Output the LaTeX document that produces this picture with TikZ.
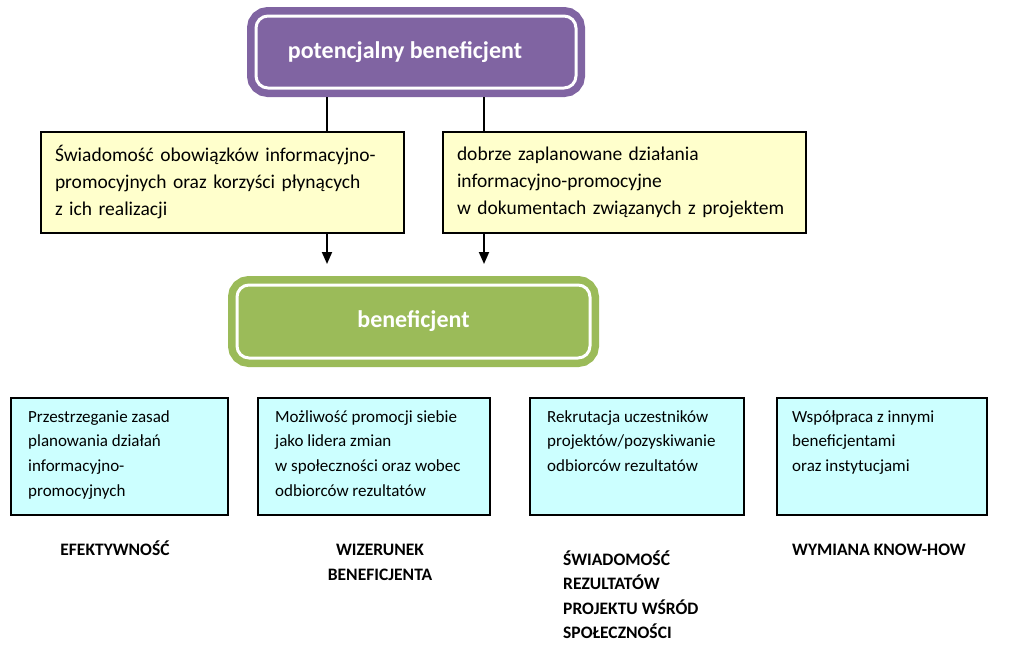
\documentclass[tikz,border=0pt]{standalone}
\usepackage{fontspec}
\setmainfont{Carlito}
\usetikzlibrary{arrows.meta, positioning, calc}

\definecolor{purbox}{HTML}{8064A2}
\definecolor{grnbox}{HTML}{9BBB59}
\definecolor{yelfill}{HTML}{FFFFCC}
\definecolor{cyanfill}{HTML}{CCFFFF}

\begin{document}
\begin{tikzpicture}[
    x=1pt, y=-1pt,
    head/.style={rounded corners=12pt, draw=#1, fill=#1, line width=7.5pt, double=white, double distance=3pt,
        outer sep=9pt, inner sep=0pt, text=white, font=\fontsize{24}{28}\selectfont\bfseries},
    ybox/.style={draw, line width=2.4pt, fill=yelfill, align=left, text width=335pt, inner xsep=14pt,
        minimum height=100.5pt, font=\fontsize{19.5}{27}\selectfont},
    cbox/.style={draw, line width=2.4pt, fill=cyanfill, minimum height=116.5pt},
    ctext/.style={anchor=base west, align=left, inner sep=0pt, font=\fontsize{17}{24.7}\selectfont},
    tag/.style={anchor=base, inner sep=0pt, font=\fontsize{17.5}{24.5}\selectfont\bfseries},
    link/.style={line width=1.8pt},
    arrow/.style={-{Triangle[width=10pt,length=12pt]}, line width=1.8pt, shorten >=12pt}
]
\useasboundingbox (0,0) rectangle (1024,651);

% top
\node[head=purbox, minimum width=320pt, minimum height=72pt] (pot) at (416,52) {potencjalny beneficjent\hspace*{22pt}};

% middle
\node[ybox] (swiad) at (222.5,182.5) {%
\'Swiadomo\'s\'c obowi\k{a}zk\'ow informacyjno-\\
promocyjnych oraz korzy\'sci p\l{}yn\k{a}cych\\
z ich realizacji};
\node[ybox] (plan) at (624.5,182.5) {%
dobrze zaplanowane dzia\l{}ania\\
informacyjno-promocyjne\\
w dokumentach zwi\k{a}zanych z projektem};

\node[head=grnbox, minimum width=353pt, minimum height=73pt] (benef) at (413.5,321.5) {beneficjent};

\coordinate (c1) at (327,0);
\coordinate (c2) at (484,0);

% connectors
\draw[link] (pot.south -| c1) -- (swiad.north -| c1);
\draw[link] (pot.south -| c2) -- (plan.north -| c2);
\draw[arrow] (swiad.south -| c1) -- (benef.north -| c1);
\draw[arrow] (plan.south -| c2) -- (benef.north -| c2);

% bottom boxes
\node[cbox, minimum width=216.6pt] (efekt) at (119.5,456.5) {};
\node[cbox, minimum width=231.6pt] (wiz) at (374,456.5) {};
\node[cbox, minimum width=213.6pt] (rekr) at (637,456.5) {};
\node[cbox, minimum width=209.6pt] (wspol) at (882,456.5) {};

% texts (base = last line)
\node[ctext] at ($(efekt.north west)+(18,99.1)$) {%
Przestrzeganie zasad\\
planowania dzia\l{}a\'n\\
informacyjno-\\
promocyjnych};
\node[ctext] at ($(wiz.north west)+(18,99.1)$) {%
Mo\.zliwo\'s\'c promocji siebie\\
jako lidera zmian\\
w spo\l{}eczno\'sci oraz wobec\\
odbiorc\'ow rezultat\'ow};
\node[ctext] at ($(rekr.north west)+(18,74.4)$) {%
Rekrutacja uczestnik\'ow\\
projekt\'ow/pozyskiwanie\\
odbiorc\'ow rezultat\'ow};
\node[ctext] at ($(wspol.north west)+(16,74.4)$) {%
Wsp\'o\l{}praca z innymi\\
beneficjentami\\
oraz instytucjami};

% labels
\node[tag] (l1) at (115,555) {EFEKTYWNO\'S\'C};
\node[tag, align=center] (l2) at (380,580) {WIZERUNEK\\BENEFICJENTA};
\node[tag, anchor=base west, align=left] (l3) at (563,638.5) {\'SWIADOMO\'S\'C\\REZULTAT\'OW\\PROJEKTU W\'SR\'OD\\SPO\L{}ECZNO\'SCI};
\node[tag, anchor=base west] (l4) at (792,555) {WYMIANA KNOW-HOW};

\end{tikzpicture}
\end{document}
